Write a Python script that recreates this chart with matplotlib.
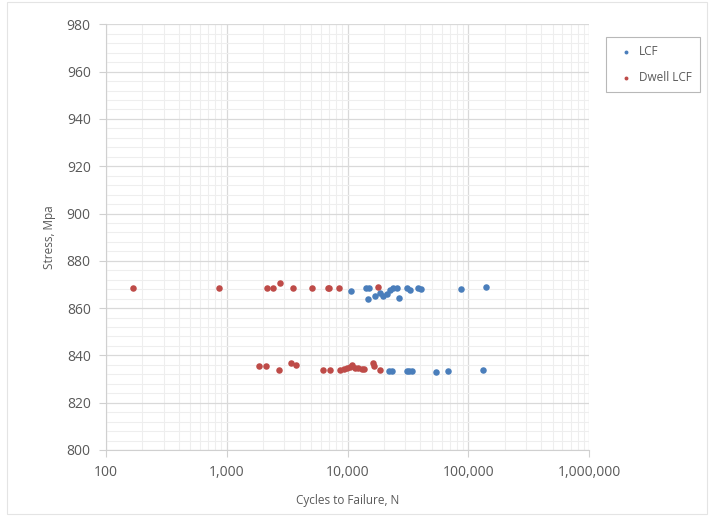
import matplotlib
matplotlib.use('Agg')
import matplotlib.pyplot as plt
from matplotlib.ticker import FuncFormatter, LogLocator, MultipleLocator
from matplotlib.patches import Rectangle

# LCF test results: cycles to failure and stress level
lcf_cycles = [10670, 14190, 15130, 14840, 16860, 18530, 19760, 21050, 22430,
              23900, 25460, 26620, 30800, 32850, 38500, 40300, 86300, 139000,
              22150, 23170, 30800, 32400, 33900, 53500, 67300, 132800]
lcf_stress = [867.2, 868.6, 868.3, 863.7, 865.1, 866.3, 865.1, 866.0, 867.6,
              868.3, 868.3, 864.1, 868.3, 867.6, 868.3, 868.0, 868.0, 868.8,
              833.6, 833.6, 833.6, 833.6, 833.6, 833.1, 833.6, 834.0]

# Dwell LCF test results
dwell_cycles = [168, 862, 2140, 2412, 2773, 3510, 5100, 6840, 7060, 8490, 17950,
                1858, 2100, 2706, 3380, 3720, 6250, 7190, 8710, 9270, 9950,
                10470, 10950, 11510, 12270, 13070, 13740, 16330, 16660, 18540]
dwell_stress = [868.6, 868.6, 868.6, 868.6, 870.5, 868.6, 868.6, 868.6, 868.6, 868.6, 868.8,
                835.6, 835.6, 834.0, 836.8, 835.8, 834.0, 833.8, 834.0, 834.3, 834.6,
                835.2, 835.8, 834.7, 834.6, 834.3, 834.3, 836.8, 835.7, 834.0]

plt.rcParams['font.family'] = ['Open Sans', 'DejaVu Sans']
text_col = '#595959'

fig = plt.figure(figsize=(7.09, 5.18), dpi=100)
ax = fig.add_axes([106 / 709, 1 - 450 / 518, (589.3 - 106) / 709, (450 - 24.3) / 518])

ax.scatter(lcf_cycles, lcf_stress, s=22, color='#4A7EBB', label='LCF', zorder=3, linewidths=0)
ax.scatter(dwell_cycles, dwell_stress, s=22, color='#BE4B48', label='Dwell LCF', zorder=3, linewidths=0)

ax.set_xscale('log')
ax.set_xlim(100, 1e6)
ax.set_ylim(800, 980)
ax.yaxis.set_major_locator(MultipleLocator(20))
ax.yaxis.set_minor_locator(MultipleLocator(4))
ax.xaxis.set_major_locator(LogLocator(base=10))
ax.xaxis.set_minor_locator(LogLocator(base=10, subs=range(2, 10)))
ax.xaxis.set_major_formatter(FuncFormatter(lambda v, _: f'{v:,.0f}'))
ax.xaxis.set_minor_formatter(FuncFormatter(lambda v, _: ''))

ax.grid(True, which='major', color='#D9D9D9', linewidth=0.9)
ax.grid(True, which='minor', color='#EEEEEE', linewidth=0.8)
ax.set_axisbelow(True)

for side in ('top', 'right'):
    ax.spines[side].set_visible(False)
for side in ('left', 'bottom'):
    ax.spines[side].set_color('#D0D0D0')
ax.tick_params(which='major', length=5, color='#D0D0D0', labelsize=10, labelcolor=text_col, pad=6)
ax.tick_params(which='minor', length=0)

ax.set_xlabel('Cycles to Failure, N', fontsize=8.5, color=text_col, labelpad=10)
ax.set_ylabel('Stress, Mpa', fontsize=8.5, color=text_col, labelpad=8)

leg = ax.legend(loc='upper left', bbox_to_anchor=(600 / 709, 1 - 31 / 518),
                bbox_transform=fig.transFigure, fontsize=8.5, frameon=True,
                fancybox=False, handletextpad=0.1, markerscale=0.6,
                borderpad=0.7, labelspacing=1.1)
leg.get_frame().set_edgecolor('#A6A6A6')
leg.get_frame().set_linewidth(0.8)
for t in leg.get_texts():
    t.set_color(text_col)

# light chart-area border
fig.patches.append(Rectangle((7 / 709, 4 / 518), 700 / 709, 512 / 518,
                             transform=fig.transFigure, fill=False,
                             edgecolor='#E4E4E4', linewidth=0.8))

fig.savefig('out.png', dpi=100)
